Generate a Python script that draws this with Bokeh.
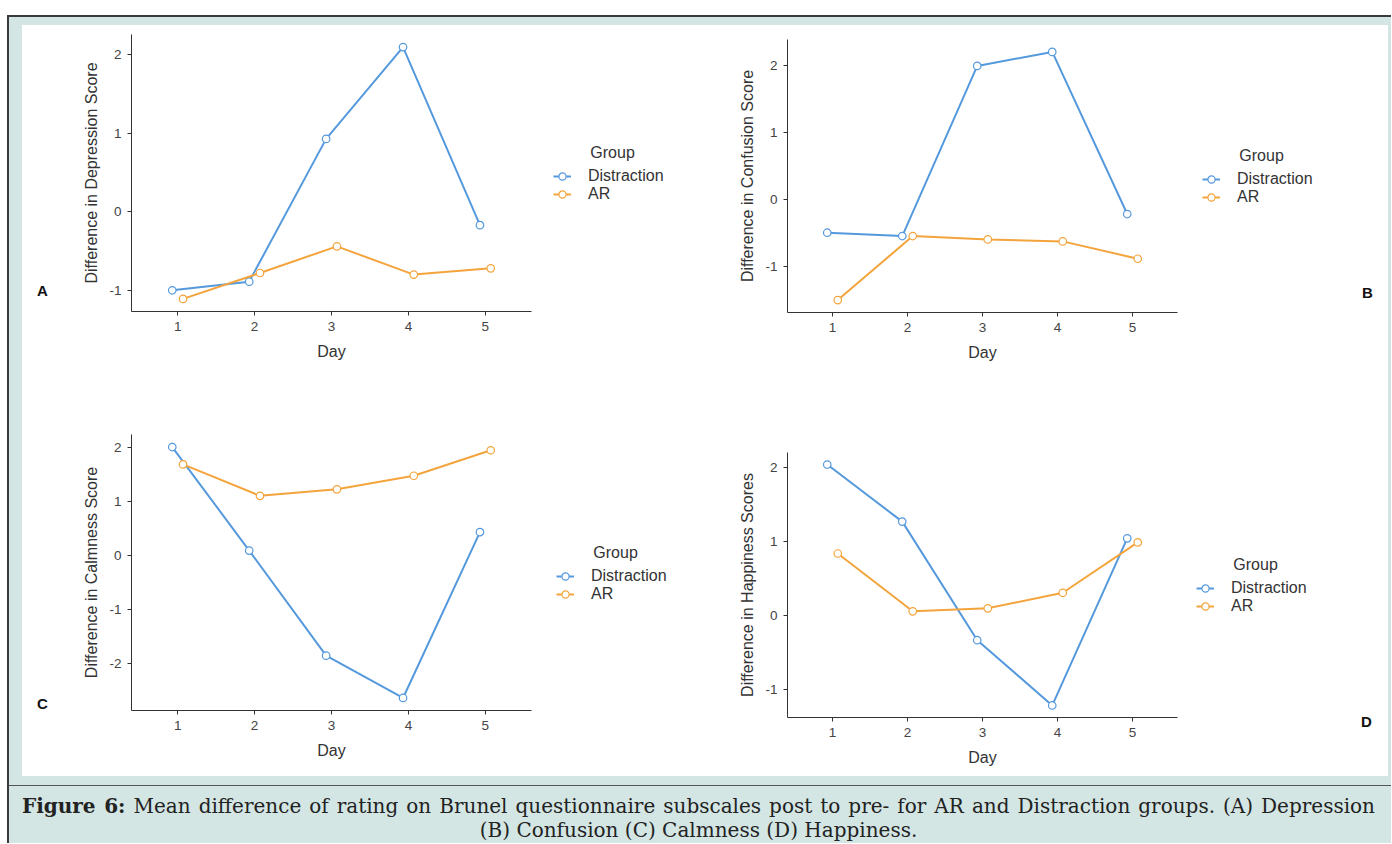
from bokeh.plotting import figure
from bokeh.models import Range1d, FixedTicker, Legend, LegendItem, Div, CustomJSTickFormatter
from bokeh.layouts import column, row
from bokeh.embed import file_html
from bokeh.resources import INLINE

# ---------------- data ----------------
days = [1, 2, 3, 4, 5]
group_names = ["Distraction", "AR"]
legend_title = "Group"

depression_distraction = [-1.00, -0.89, 0.93, 2.10, -0.17]
depression_ar = [-1.11, -0.78, -0.44, -0.80, -0.72]

confusion_distraction = [-0.50, -0.55, 2.00, 2.21, -0.22]
confusion_ar = [-1.51, -0.55, -0.60, -0.63, -0.89]

calmness_distraction = [2.00, 0.09, -1.85, -2.63, 0.43]
calmness_ar = [1.68, 1.10, 1.22, 1.47, 1.94]

happiness_distraction = [2.04, 1.27, -0.33, -1.21, 1.045]
happiness_ar = [0.84, 0.06, 0.10, 0.31, 0.99]

yticks_a = [-1, 0, 1, 2]
yticks_b = [-1, 0, 1, 2]
yticks_c = [-2, -1, 0, 1, 2]
yticks_d = [-1, 0, 1, 2]

caption_bold = "Figure 6:"
caption_line1 = " Mean difference of rating on Brunel questionnaire subscales post to pre- for AR and Distraction groups. (A) Depression"
caption_line2 = "(B) Confusion (C) Calmness (D) Happiness."

# ---------------- style ----------------
BLUE = "#5599dd"
ORANGE = "#f4a43c"
TEAL = "#d3e6e4"
DARK = "#3a3a3a"
FONT = "Liberation Sans"
DODGE = 0.07
TITLE_INDENT = "\u2003\u2003\u2005\u200a"
LINE_W = 2
PT_SIZE = 7.5


def add_series(fig, dist, ar):
    xd = [d - DODGE for d in days]
    xa = [d + DODGE for d in days]
    rdl = fig.line(xd, dist, line_color=BLUE, line_width=LINE_W)
    rdp = fig.scatter(xd, dist, marker="circle", size=PT_SIZE, line_color=BLUE, fill_color="white", line_width=1.2)
    ral = fig.line(xa, ar, line_color=ORANGE, line_width=LINE_W)
    rap = fig.scatter(xa, ar, marker="circle", size=PT_SIZE, line_color=ORANGE, fill_color="white", line_width=1.2)
    return rdl, rdp, ral, rap


def make_chart(ylabel, dist, ar, yticks, box):
    W, H, bl, br, bt, bb = box
    lo = min(dist + ar)
    hi = max(dist + ar)
    pad = 0.05 * (hi - lo)
    p = figure(width=W, height=H, x_range=Range1d(0.4, 5.6), y_range=Range1d(lo - pad, hi + pad),
               output_backend="svg", toolbar_location=None, title=None,
               min_border_left=bl, min_border_right=br, min_border_top=bt, min_border_bottom=bb,
               background_fill_color="white", border_fill_color="white",
               outline_line_color=None, margin=0)
    p.grid.visible = False
    add_series(p, dist, ar)

    for ax in (p.xaxis[0], p.yaxis[0]):
        ax.axis_line_color = "#333333"
        ax.axis_line_width = 1
        ax.major_tick_line_color = "#333333"
        ax.major_tick_out = 4
        ax.major_tick_in = 0
        ax.minor_tick_line_color = None
        ax.major_label_text_font = FONT
        ax.major_label_text_font_size = "13.5px"
        ax.major_label_text_color = "#444444"
        ax.axis_label_text_font = FONT
        ax.axis_label_text_font_size = "16px"
        ax.axis_label_text_font_style = "normal"
        ax.axis_label_text_color = "#333333"
    p.xaxis.ticker = FixedTicker(ticks=days)
    p.yaxis.ticker = FixedTicker(ticks=yticks)
    p.yaxis.formatter = CustomJSTickFormatter(code="return String(tick)")
    p.xaxis.axis_label = "Day"
    p.yaxis.axis_label = ylabel
    p.xaxis.major_label_standoff = 6
    p.xaxis.axis_label_standoff = 9
    p.yaxis.major_label_standoff = 6
    p.yaxis.axis_label_standoff = 6
    return p


def make_legend(W, H, bt, bb, legend_xy, dist, ar):
    # a bare figure that only carries the group legend; its ranges keep the series out of view
    q = figure(width=W, height=H, x_range=Range1d(-2, -1), y_range=Range1d(-20, -19),
               output_backend="svg", toolbar_location=None, title=None,
               x_axis_type=None, y_axis_type=None,
               min_border_left=0, min_border_right=0, min_border_top=bt, min_border_bottom=bb,
               background_fill_color="white", border_fill_color="white",
               outline_line_color=None, margin=0)
    q.grid.visible = False
    rdl, rdp, ral, rap = add_series(q, dist, ar)
    leg = Legend(items=[LegendItem(label=group_names[0], renderers=[rdl, rdp]),
                        LegendItem(label=group_names[1], renderers=[ral, rap])],
                 location=legend_xy, orientation="vertical",
                 title=TITLE_INDENT + legend_title, title_standoff=5,
                 title_text_font=FONT, title_text_font_size="16px", title_text_font_style="normal",
                 title_text_color="#333333",
                 border_line_color=None, background_fill_alpha=0,
                 padding=0, margin=0, spacing=0,
                 glyph_width=18, glyph_height=18, label_height=18, label_standoff=17,
                 label_text_font=FONT, label_text_font_size="16px", label_text_color="#333333")
    q.add_layout(leg)
    return q


pA = make_chart("Difference in Depression Score", depression_distraction, depression_ar, yticks_a,
                (473, 375, 69, 4, 9, 89))
lA = make_legend(170, 375, 9, 89, (18, 108), depression_distraction, depression_ar)
pC = make_chart("Difference in Calmness Score", calmness_distraction, calmness_ar, yticks_c,
                (473, 376, 69, 4, 34, 66))
lC = make_legend(170, 376, 34, 66, (21, 107), calmness_distraction, calmness_ar)
pB = make_chart("Difference in Confusion Score", confusion_distraction, confusion_ar, yticks_b,
                (476, 375, 82, 4, 14, 88))
lB = make_legend(169, 375, 14, 88, (21, 106), confusion_distraction, confusion_ar)
pD = make_chart("Difference in Happiness Scores", happiness_distraction, happiness_ar, yticks_d,
                (476, 376, 82, 4, 52, 59))
lD = make_legend(169, 376, 52, 59, (15, 102), happiness_distraction, happiness_ar)


def block(w, h, color):
    return Div(text="", width=w, height=h, margin=0, styles={"background-color": color})


def letter_span(ch, left, top):
    return ('<span style="position:absolute; left:%dpx; top:%dpx; font-family:\'Liberation Sans\'; '
            'font-weight:bold; font-size:15px; line-height:17px; color:#111;">%s</span>' % (left, top, ch))


left_letters = Div(text='<div style="position:relative; width:40px; height:751px;">'
                   + letter_span("A", 15, 257) + letter_span("C", 15, 670) + '</div>',
                   width=40, height=751, margin=0, styles={"background-color": "white"})
right_letters = Div(text='<div style="position:relative; width:38px; height:751px;">'
                    + letter_span("B", 12, 259) + letter_span("D", 11, 688) + '</div>',
                    width=38, height=751, margin=0, styles={"background-color": "white"})

left_col = column(row(pA, lA, margin=0, spacing=0), row(pC, lC, margin=0, spacing=0), margin=0, spacing=0)
right_col = column(row(pB, lB, margin=0, spacing=0), row(pD, lD, margin=0, spacing=0), margin=0, spacing=0)
charts = row(left_letters, left_col, right_col, right_letters, margin=0, spacing=0)

caption_html = (
    '<div style="font-family:\'DejaVu Serif\'; font-size:20px; color:#222; line-height:24px; '
    'padding:8px 0 0 13px; width:1366px;">'
    '<div style="text-align:justify; text-align-last:justify; white-space:nowrap;"><b>' + caption_bold + '</b>'
    + caption_line1 + '</div>'
    '<div style="text-align:center;">' + caption_line2 + '</div></div>'
)
caption = Div(text=caption_html, width=1382, height=57, margin=0,
              styles={"background-color": TEAL, "overflow": "hidden"})

inner = column(
    block(1382, 8, TEAL),
    row(block(13, 751, TEAL), charts, block(3, 751, TEAL), margin=0, spacing=0),
    block(1382, 9, TEAL),
    block(1382, 1, "#555555"),
    caption,
    margin=0, spacing=0,
)

boxed = column(block(1384, 2, DARK), row(block(2, 826, DARK), inner, margin=0, spacing=0),
               margin=0, spacing=0)

layout = column(
    block(1391, 15, "white"),
    row(block(7, 828, "white"), boxed, margin=0, spacing=0),
    margin=0, spacing=0,
)

open("out.html", "w").write(file_html(layout, INLINE))
